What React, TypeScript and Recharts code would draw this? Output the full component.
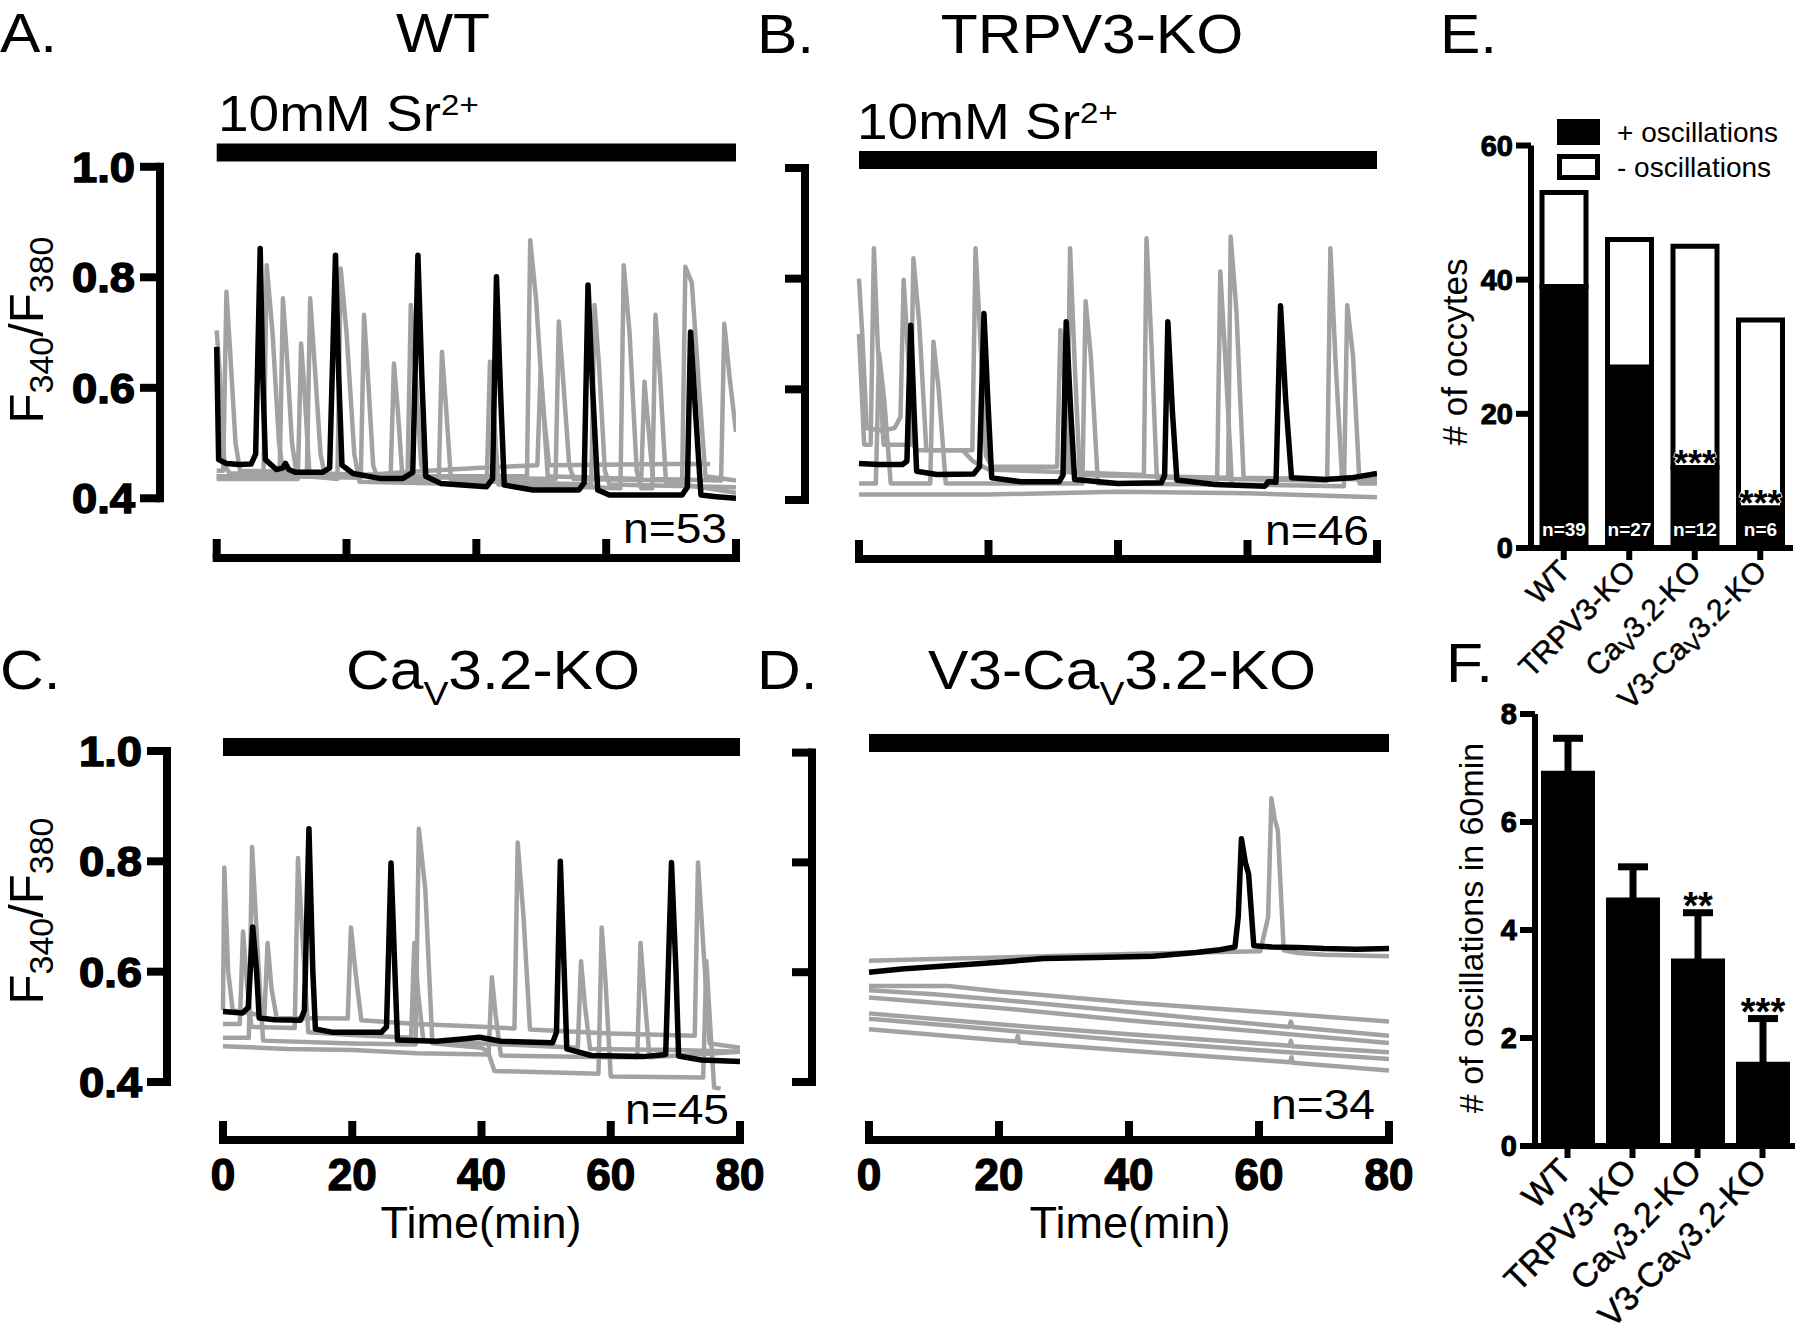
import React from 'react';
import { LineChart, Line, XAxis, YAxis, ReferenceLine, BarChart, Bar, ErrorBar, LabelList } from 'recharts';

const FONT = "'Liberation Sans', Arial, Helvetica, sans-serif";
type Pt = [number, number];

// ---------------- Panel A (WT) traces: [time (min), F340/F380] ----------------
const A_BLACK: Pt[] = [[0,0.674],[0.3,0.47],[1.5,0.463],[3.5,0.461],[5.3,0.462],[6.0,0.48],[6.7,0.852],[7.1,0.62],[7.5,0.47],[9.2,0.452],[10.2,0.455],[10.6,0.463],[11.1,0.452],[12.1,0.447],[16.3,0.447],[17.4,0.455],[18.3,0.84],[18.8,0.62],[19.3,0.46],[21,0.445],[25.1,0.436],[28.7,0.436],[30.2,0.447],[31,0.84],[31.6,0.62],[32.2,0.44],[34.5,0.427],[41.6,0.421],[42.5,0.435],[43.1,0.801],[43.7,0.6],[44.3,0.424],[48.7,0.415],[55.8,0.415],[56.6,0.428],[57.2,0.786],[57.9,0.6],[58.7,0.415],[60.5,0.406],[71.7,0.406],[72.5,0.42],[73,0.701],[73.8,0.55],[74.6,0.406],[77,0.403],[80,0.4]];
const A_GRAY1: Pt[] = [[0,0.704],[0.5,0.62],[1.2,0.46],[2,0.445],[9.7,0.445],[10.2,0.762],[10.8,0.66],[11.6,0.5],[12.3,0.445],[26.8,0.44],[27.3,0.644],[27.9,0.56],[28.6,0.44],[47.8,0.44],[48.3,0.867],[49.2,0.76],[50.2,0.58],[51,0.44],[65.4,0.435],[65.9,0.611],[66.5,0.53],[67.2,0.435],[77.7,0.432],[78.2,0.716],[79,0.62],[80,0.52]];
const A_GRAY2: Pt[] = [[0,0.45],[1,0.45],[1.5,0.774],[2.1,0.66],[2.9,0.5],[3.6,0.45],[13.9,0.447],[14.4,0.762],[15.1,0.64],[16,0.48],[16.6,0.445],[29.4,0.44],[29.9,0.75],[30.6,0.63],[31.5,0.46],[32.2,0.438],[52.2,0.435],[52.7,0.72],[53.4,0.61],[54.3,0.46],[55,0.435],[71.7,0.432],[72.2,0.819],[73.2,0.79],[74.3,0.6],[75.3,0.44],[80,0.432]];
const A_GRAY3: Pt[] = [[0,0.44],[7.2,0.44],[7.7,0.822],[8.6,0.7],[9.6,0.5],[10.3,0.44],[22.2,0.437],[22.7,0.732],[23.3,0.62],[24.1,0.46],[24.8,0.436],[34.2,0.432],[34.7,0.665],[35.3,0.57],[36.1,0.432],[57.7,0.425],[58.2,0.75],[58.9,0.64],[59.8,0.45],[60.5,0.425],[80,0.42]];
const A_GRAY4: Pt[] = [[0,0.435],[12.5,0.435],[13,0.68],[13.6,0.58],[14.3,0.44],[18.6,0.435],[19.1,0.816],[20,0.7],[21.2,0.48],[22,0.43],[41.6,0.425],[42.1,0.647],[42.7,0.55],[43.4,0.425],[62.2,0.418],[62.7,0.822],[63.6,0.7],[64.7,0.45],[65.4,0.418],[67.1,0.418],[67.6,0.732],[68.3,0.62],[69.2,0.43],[80,0.41]];
const A_GRAY5: Pt[] = [[0,0.44],[20,0.44],[30,0.448],[40,0.455],[49.4,0.46],[49.9,0.629],[50.5,0.54],[51.2,0.46],[70,0.462],[76,0.462]];

// ---------------- Panel B (TRPV3-KO) ----------------
const B_BLACK: Pt[] = [[0,0.466],[3,0.464],[6.7,0.464],[7.4,0.47],[8,0.716],[8.5,0.56],[8.9,0.452],[12,0.446],[17.7,0.447],[18.6,0.46],[19.3,0.737],[19.9,0.58],[20.5,0.44],[25,0.433],[30.9,0.433],[31.5,0.445],[32,0.722],[32.7,0.56],[33.3,0.437],[40,0.43],[46.7,0.431],[47.2,0.445],[47.7,0.722],[48.4,0.56],[49.1,0.436],[55,0.428],[62.7,0.425],[63.2,0.433],[64.4,0.432],[65.1,0.751],[65.9,0.58],[66.8,0.44],[72,0.437],[76,0.44],[80,0.448]];
const B_GRAY1: Pt[] = [[0,0.8],[0.5,0.7],[1.2,0.53],[3.5,0.525],[5.5,0.53],[6.4,0.55],[6.9,0.798],[7.5,0.68],[8.3,0.5],[9,0.49],[17.5,0.49],[18,0.855],[18.7,0.7],[19.6,0.48],[20.5,0.46],[30.6,0.46],[31.1,0.707],[31.8,0.6],[32.6,0.45],[44,0.445],[44.4,0.873],[45.1,0.7],[46,0.44],[72.3,0.435],[72.8,0.855],[73.6,0.65],[74.6,0.44],[80,0.44]];
const B_GRAY2: Pt[] = [[0,0.7],[0.8,0.5],[1.8,0.5],[2.3,0.855],[2.9,0.68],[3.8,0.5],[7.9,0.5],[8.4,0.837],[9.3,0.72],[10.4,0.49],[16,0.49],[17.6,0.47],[20,0.455],[32.1,0.45],[32.6,0.855],[33.3,0.65],[34.1,0.445],[57,0.44],[57.4,0.876],[58.3,0.74],[59.4,0.44],[80,0.437]];
const B_GRAY3: Pt[] = [[0,0.43],[2.6,0.43],[3.1,0.665],[3.9,0.58],[4.9,0.43],[11,0.43],[11.5,0.686],[12.3,0.6],[13.4,0.43],[34.5,0.43],[35,0.759],[35.8,0.66],[36.9,0.43],[55.3,0.428],[55.8,0.813],[56.6,0.65],[57.6,0.428],[74.9,0.425],[75.4,0.752],[76.3,0.66],[77.3,0.43],[80,0.43]];
const B_GRAY4: Pt[] = [[0,0.41],[20,0.41],[40,0.415],[60,0.412],[80,0.405]];

// ---------------- Panel C (CaV3.2-KO) ----------------
const C_BLACK: Pt[] = [[0,0.528],[3,0.525],[3.9,0.535],[4.6,0.681],[5.2,0.6],[5.6,0.516],[8,0.513],[12,0.512],[12.6,0.53],[13.3,0.859],[13.9,0.6],[14.3,0.496],[17,0.49],[24.5,0.49],[25.3,0.5],[26,0.797],[26.6,0.6],[27,0.476],[33,0.474],[37,0.478],[39.7,0.481],[43,0.474],[51,0.471],[51.6,0.49],[52.2,0.8],[52.8,0.6],[53.2,0.46],[57,0.448],[65,0.446],[68.5,0.45],[69.4,0.798],[70.1,0.6],[70.5,0.447],[74,0.44],[80,0.437]];
const C_GRAY1: Pt[] = [[0,0.53],[0.2,0.789],[0.8,0.6],[1.5,0.53],[6.4,0.52],[6.9,0.652],[7.5,0.57],[8.3,0.516],[19.3,0.515],[19.8,0.68],[20.5,0.6],[21.4,0.512],[30,0.505],[40,0.5],[45.1,0.497],[45.6,0.834],[46.5,0.7],[47.5,0.495],[60,0.488],[73,0.484],[73.5,0.798],[74.3,0.65],[75.3,0.47],[80,0.462]];
const C_GRAY2: Pt[] = [[0,0.505],[2.6,0.505],[3.1,0.673],[3.7,0.58],[4.4,0.5],[11.1,0.498],[11.6,0.806],[12.3,0.66],[13.2,0.49],[20,0.485],[29.1,0.48],[29.6,0.652],[30.2,0.56],[31,0.475],[40,0.47],[54.9,0.462],[55.4,0.619],[56,0.54],[56.8,0.46],[70,0.458],[80,0.455]];
const C_GRAY3: Pt[] = [[0,0.48],[4,0.48],[4.5,0.826],[5.3,0.65],[6.2,0.475],[20,0.47],[29.8,0.468],[30.3,0.859],[31.3,0.75],[32.4,0.47],[40,0.462],[41,0.455],[42,0.42],[58.1,0.415],[58.6,0.68],[59.2,0.58],[60,0.41],[74.3,0.408],[74.8,0.619],[75.4,0.5],[76,0.39],[77,0.388]];
const C_GRAY4: Pt[] = [[0,0.465],[10,0.46],[20,0.458],[30,0.452],[41.1,0.45],[41.6,0.59],[42.2,0.52],[43,0.448],[60,0.445],[64.1,0.445],[64.6,0.652],[65.2,0.56],[66,0.445],[80,0.455]];

// ---------------- Panel D (V3-CaV3.2-KO) ----------------
const D_BLACK: Pt[] = [[0,0.6],[5,0.606],[10,0.61],[20,0.618],[26.9,0.625],[35,0.627],[43.6,0.629],[50.3,0.636],[54,0.641],[56.3,0.646],[56.8,0.7],[57.3,0.843],[57.9,0.8],[58.4,0.779],[59.2,0.648],[62,0.646],[66,0.645],[70,0.643],[75,0.642],[80,0.643]];
const D_GRAY_TOP: Pt[] = [[0,0.621],[10,0.624],[20,0.627],[30,0.63],[40,0.633],[50,0.636],[60.2,0.638],[61.4,0.7],[61.9,0.917],[62.4,0.88],[62.9,0.858],[63.8,0.64],[66,0.635],[70,0.632],[80,0.629]];
const D_GRAY_L1: Pt[] = [[0,0.575],[12.2,0.575],[20,0.565],[40,0.545],[60,0.528],[80,0.51]];
const D_GRAY_L2: Pt[] = [[0,0.567],[10,0.56],[20,0.55],[40,0.528],[60,0.505],[64.6,0.5],[64.9,0.51],[65.2,0.5],[80,0.484]];
const D_GRAY_L3: Pt[] = [[0,0.554],[20,0.535],[40,0.512],[60,0.492],[80,0.471]];
const D_GRAY_L4: Pt[] = [[0,0.525],[20,0.505],[40,0.487],[60,0.47],[64.7,0.466],[64.9,0.475],[65.1,0.465],[80,0.454]];
const D_GRAY_L5: Pt[] = [[0,0.515],[20,0.495],[40,0.475],[60,0.458],[80,0.442]];
const D_GRAY_L6: Pt[] = [[0,0.496],[20,0.476],[22.7,0.474],[22.9,0.484],[23.1,0.472],[40,0.457],[60,0.44],[64.8,0.436],[65,0.445],[65.2,0.435],[80,0.421]];

const TIME_TICKS = [0, 20, 40, 60, 80];
const RATIO_TICKS = [0.4, 0.6, 0.8, 1.0];

// ---------------- Panel E / F ----------------
const GENOTYPES = ['WT', 'TRPV3-KO', 'CaV3.2-KO', 'V3-CaV3.2-KO'];
const OSC_POS = [39, 27, 12, 6];
const OSC_NEG = [14, 19, 33, 28];
const OSC_SIG = ['', '', '***', '***'];
const OSC_TICKS = [0, 20, 40, 60];
const FREQ_MEAN = [6.95, 4.6, 3.47, 1.56];
const FREQ_SEM = [0.6, 0.57, 0.85, 0.8];
const FREQ_SIG = ['', '', '**', '***'];
const FREQ_TICKS = [0, 2, 4, 6, 8];

const OSC_ROWS = GENOTYPES.map((name, i) => ({ name, pos: OSC_POS[i], neg: OSC_NEG[i], sig: OSC_SIG[i] }));
const FREQ_ROWS = GENOTYPES.map((name, i) => ({ name, mean: FREQ_MEAN[i], sem: FREQ_SEM[i], sig: FREQ_SIG[i] }));

const rows = (pts: Pt[]) => pts.map(([t, v]) => ({ t, v }));

const GRAY = '#a2a2a2';

type Layout = {
  axisX: number; x0: number; x80: number; y10: number; y04: number; axisY: number;
  plotTop: number; barY: number; chartLeft: number; chartTop: number; xAxisH: number;
  yLabels: boolean; xLabels: boolean;
};

const LAYOUT_A: Layout = { axisX: 160, x0: 216.7, x80: 736, y10: 166.8, y04: 498.3, axisY: 558, plotTop: 120, barY: 152.5, chartLeft: 0, chartTop: 100, xAxisH: 20, yLabels: true, xLabels: false };
const LAYOUT_B: Layout = { axisX: 805, x0: 859, x80: 1377, y10: 168, y04: 500, axisY: 559, plotTop: 125, barY: 160, chartLeft: 760, chartTop: 100, xAxisH: 20, yLabels: false, xLabels: false };
const LAYOUT_C: Layout = { axisX: 167, x0: 223, x80: 740, y10: 751, y04: 1082, axisY: 1140, plotTop: 725, barY: 747, chartLeft: 0, chartTop: 700, xAxisH: 70, yLabels: true, xLabels: true };
const LAYOUT_D: Layout = { axisX: 812, x0: 869, x80: 1389, y10: 752.6, y04: 1082, axisY: 1140, plotTop: 725, barY: 743, chartLeft: 770, chartTop: 700, xAxisH: 70, yLabels: false, xLabels: true };

const RatioTick = (props: any) => {
  const { x, y, payload, showLabel } = props;
  return (
    <g>
      <line x1={x} y1={y} x2={x - 20} y2={y} stroke="#000" strokeWidth={8} />
      {showLabel && (
        <text transform={`translate(${x - 25},${y + 15}) scale(1.08,1)`} textAnchor="end" fontSize={42} fontWeight="bold"
          fontFamily={FONT} fill="#000" stroke="#000" strokeWidth={1.4}>
          {Number(payload.value).toFixed(1)}
        </text>
      )}
    </g>
  );
};

const TimeTick = (props: any) => {
  const { x, y, payload, showLabel } = props;
  return (
    <g>
      <line x1={x} y1={y} x2={x} y2={y - 19} stroke="#000" strokeWidth={8} />
      {showLabel && (
        <text x={x} y={y + 50} textAnchor="middle" fontSize={44} fontWeight="bold" fontFamily={FONT}
          fill="#000" stroke="#000" strokeWidth={1.4}>
          {payload.value}
        </text>
      )}
    </g>
  );
};

function TracePanel({ L, gray, black }: { L: Layout; gray: Pt[][]; black: Pt[] }) {
  const pxMin = (L.x80 - L.x0) / 80;
  const pxUnit = (L.y04 - L.y10) / 0.6;
  const xMin = -(L.x0 - L.axisX) / pxMin;
  const yMin = 0.4 - (L.axisY - L.y04) / pxUnit;
  const yMax = 1.0 + (L.y10 - L.plotTop) / pxUnit;
  const barV = 1.0 + (L.y10 - L.barY) / pxUnit;
  const rightM = 34;
  const width = L.x80 + rightM - L.chartLeft;
  const height = L.axisY + L.xAxisH - L.chartTop;
  return (
    <div style={{ position: 'absolute', left: L.chartLeft, top: L.chartTop }}>
      <LineChart width={width} height={height} margin={{ top: L.plotTop - L.chartTop, right: rightM, bottom: 0, left: 0 }}>
        <XAxis type="number" dataKey="t" domain={[xMin, 80]} allowDataOverflow ticks={TIME_TICKS} interval={0}
          axisLine={false} tickLine={false} tickSize={0} tickMargin={0} height={L.xAxisH}
          tick={(p: any) => <TimeTick {...p} showLabel={L.xLabels} />} />
        <YAxis type="number" dataKey="v" domain={[yMin, yMax]} allowDataOverflow ticks={RATIO_TICKS} interval={0}
          axisLine={false} tickLine={false} tickSize={0} tickMargin={0} width={L.axisX - L.chartLeft}
          tick={(p: any) => <RatioTick {...p} showLabel={L.yLabels} />} />
        <ReferenceLine segment={[{ x: xMin, y: 0.4 }, { x: xMin, y: 1.0 }]} stroke="#000" strokeWidth={8} strokeLinecap="square" ifOverflow="visible" />
        <ReferenceLine segment={[{ x: 0, y: yMin }, { x: 80, y: yMin }]} stroke="#000" strokeWidth={8} strokeLinecap="square" ifOverflow="visible" />
        <ReferenceLine segment={[{ x: 0, y: barV }, { x: 80, y: barV }]} stroke="#000" strokeWidth={18} ifOverflow="visible" />
        {gray.map((g, i) => (
          <Line key={i} data={rows(g)} dataKey="v" type="linear" dot={false} stroke={GRAY} strokeWidth={4.5}
            strokeLinejoin="round" isAnimationActive={false} />
        ))}
        <Line data={rows(black)} dataKey="v" type="linear" dot={false} stroke="#000" strokeWidth={5.5}
          strokeLinejoin="round" isAnimationActive={false} />
      </LineChart>
    </div>
  );
}

const catLabel = (name: string) => {
  const i = name.indexOf('CaV');
  if (i < 0) return name;
  return (
    <>
      {name.slice(0, i + 2)}
      <tspan fontSize="0.75em" dy={5}>V</tspan>
      <tspan dy={-5}>{name.slice(i + 3)}</tspan>
    </>
  );
};

const CatTick = (props: any) => {
  const { x, y, payload, fs, dx, dy } = props;
  return (
    <g>
      <line x1={x} y1={y} x2={x} y2={y + 12} stroke="#000" strokeWidth={6} />
      <text transform={`translate(${x + dx},${y + dy}) rotate(-45)`} textAnchor="end" fontSize={fs} fontFamily={FONT}
        fill="#000" stroke="#000" strokeWidth={0.5}>
        {catLabel(String(payload.value))}
      </text>
    </g>
  );
};

const CountTick = (props: any) => {
  const { x, y, payload, fs } = props;
  return (
    <g>
      <line x1={x} y1={y} x2={x - 15} y2={y} stroke="#000" strokeWidth={6} />
      <text x={x - 18} y={y + fs * 0.36} textAnchor="end" fontSize={fs} fontWeight="bold" fontFamily={FONT}
        fill="#000" stroke="#000" strokeWidth={1}>
        {payload.value}
      </text>
    </g>
  );
};

function PanelE() {
  return (
    <div style={{ position: 'absolute', left: 1420, top: 100 }}>
      <BarChart width={380} height={650} data={OSC_ROWS} margin={{ top: 45.5, right: 7, bottom: 0, left: 0 }} barSize={44}>
        <XAxis dataKey="name" type="category" interval={0} height={202} tickSize={0} tickMargin={0} tickLine={false}
          axisLine={{ stroke: '#000', strokeWidth: 6 }}
          tick={(p: any) => <CatTick {...p} fs={30} dx={8} dy={25} />} />
        <YAxis type="number" domain={[0, 60]} ticks={OSC_TICKS} interval={0} width={111} tickSize={0} tickMargin={0} tickLine={false}
          axisLine={{ stroke: '#000', strokeWidth: 6 }}
          tick={(p: any) => <CountTick {...p} fs={29} />} />
        <Bar dataKey="pos" stackId="s" fill="#000" stroke="#000" strokeWidth={5} isAnimationActive={false}>
          <LabelList dataKey="pos" content={(p: any) => (
            <text x={p.x + p.width / 2} y={p.y + p.height - 12} textAnchor="middle" fontSize={19} fontWeight="bold" fontFamily={FONT} fill="#fff">
              {`n=${p.value}`}
            </text>
          )} />
          <LabelList dataKey="sig" content={(p: any) => (p.value ? (
            <text x={p.x + p.width / 2} y={p.y + 8} textAnchor="middle" fontSize={36} fontWeight="bold" fontFamily={FONT}
              fill="#000" stroke="#fff" strokeWidth={1.5} paintOrder="stroke">
              {p.value}
            </text>
          ) : null)} />
        </Bar>
        <Bar dataKey="neg" stackId="s" fill="#fff" stroke="#000" strokeWidth={5} isAnimationActive={false} />
      </BarChart>
    </div>
  );
}

function PanelF() {
  return (
    <div style={{ position: 'absolute', left: 1420, top: 680 }}>
      <BarChart width={380} height={657} data={FREQ_ROWS} margin={{ top: 34, right: 5, bottom: 0, left: 0 }} barSize={54}>
        <XAxis dataKey="name" type="category" interval={0} height={191} tickSize={0} tickMargin={0} tickLine={false}
          axisLine={{ stroke: '#000', strokeWidth: 6 }}
          tick={(p: any) => <CatTick {...p} fs={34} dx={6} dy={27} />} />
        <YAxis type="number" domain={[0, 8]} ticks={FREQ_TICKS} interval={0} width={115} tickSize={0} tickMargin={0} tickLine={false}
          axisLine={{ stroke: '#000', strokeWidth: 6 }}
          tick={(p: any) => <CountTick {...p} fs={29} />} />
        <Bar dataKey="mean" fill="#000" isAnimationActive={false}>
          <ErrorBar dataKey="sem" width={15} stroke="#000" strokeWidth={7} direction="y" />
          <LabelList dataKey="sig" content={(p: any) => {
            if (!p.value) return null;
            const r = FREQ_ROWS[p.index];
            if (!r) return null;
            const capY = p.y - (r.sem * p.height) / r.mean;
            return (
              <text x={p.x + p.width / 2} y={capY + 6} textAnchor="middle" fontSize={38} fontWeight="bold" fontFamily={FONT}
                fill="#000" stroke="#fff" strokeWidth={1.5} paintOrder="stroke">
                {p.value}
              </text>
            );
          }} />
        </Bar>
      </BarChart>
    </div>
  );
}

const Txt = ({ x, y, size, anchor = 'start', bold = false, sx = 1, rot = 0, fill = '#000', children }: any) => (
  <text transform={`translate(${x},${y}) rotate(${rot}) scale(${sx},1)`} fontSize={size} textAnchor={anchor}
    fontWeight={bold ? 'bold' : 'normal'} fontFamily={FONT} fill={fill}>
    {children}
  </text>
);

const RatioLabel = ({ x, y }: { x: number; y: number }) => (
  <Txt x={x} y={y} size={49} rot={-90} anchor="middle">
    F<tspan fontSize={34} dy={10}>340</tspan><tspan dy={-10}>/F</tspan><tspan fontSize={34} dy={10}>380</tspan>
  </Txt>
);

const SrLabel = ({ x, y }: { x: number; y: number }) => (
  <Txt x={x} y={y} size={50} sx={1.1}>
    10mM Sr<tspan fontSize={30} dy={-16}>2+</tspan>
  </Txt>
);

function Overlay() {
  const SX = 1.1;
  return (
    <svg width={1800} height={1337} style={{ position: 'absolute', left: 0, top: 0, pointerEvents: 'none' }}>
      <Txt x={0} y={52} size={55} sx={SX}>A.</Txt>
      <Txt x={443} y={52} size={55} sx={SX} anchor="middle">WT</Txt>
      <Txt x={757} y={53} size={55} sx={SX}>B.</Txt>
      <Txt x={1092} y={53} size={55} sx={SX} anchor="middle">TRPV3-KO</Txt>
      <Txt x={0} y={689} size={55} sx={SX}>C.</Txt>
      <Txt x={493} y={689} size={55} sx={SX} anchor="middle">Ca<tspan fontSize={34} dy={16}>V</tspan><tspan dy={-16}>3.2-KO</tspan></Txt>
      <Txt x={757} y={689} size={55} sx={SX}>D.</Txt>
      <Txt x={1122} y={689} size={55} sx={SX} anchor="middle">V3-Ca<tspan fontSize={34} dy={16}>V</tspan><tspan dy={-16}>3.2-KO</tspan></Txt>
      <Txt x={1440} y={53} size={55} sx={SX}>E.</Txt>
      <Txt x={1446} y={682} size={55} sx={SX}>F.</Txt>

      <SrLabel x={218} y={131} />
      <SrLabel x={857} y={139} />

      <RatioLabel x={43} y={330} />
      <RatioLabel x={43} y={911} />

      <Txt x={727} y={543} size={42} sx={SX} anchor="end">n=53</Txt>
      <Txt x={1369} y={545} size={42} sx={SX} anchor="end">n=46</Txt>
      <Txt x={729} y={1124} size={42} sx={SX} anchor="end">n=45</Txt>
      <Txt x={1375} y={1119} size={42} sx={SX} anchor="end">n=34</Txt>

      <Txt x={481} y={1238} size={45} anchor="middle">Time(min)</Txt>
      <Txt x={1130} y={1238} size={45} anchor="middle">Time(min)</Txt>

      <rect x={1557} y={119} width={43} height={26} fill="#000" />
      <rect x={1559.5} y={156.5} width={38} height={21} fill="#fff" stroke="#000" strokeWidth={5} />
      <Txt x={1617} y={142} size={28}>+ oscillations</Txt>
      <Txt x={1617} y={177} size={28}>- oscillations</Txt>

      <Txt x={1467} y={352} size={35} rot={-90} anchor="middle"># of occytes</Txt>
      <Txt x={1483} y={928} size={34} rot={-90} anchor="middle"># of oscillations in 60min</Txt>
    </svg>
  );
}

export default function App() {
  return (
    <div style={{ position: 'absolute', left: 0, top: 0, width: 1800, height: 1337, background: '#fff', overflow: 'hidden' }}>
      <TracePanel L={LAYOUT_A} gray={[A_GRAY1, A_GRAY2, A_GRAY3, A_GRAY4, A_GRAY5]} black={A_BLACK} />
      <TracePanel L={LAYOUT_B} gray={[B_GRAY1, B_GRAY2, B_GRAY3, B_GRAY4]} black={B_BLACK} />
      <TracePanel L={LAYOUT_C} gray={[C_GRAY1, C_GRAY2, C_GRAY3, C_GRAY4]} black={C_BLACK} />
      <TracePanel L={LAYOUT_D} gray={[D_GRAY_TOP, D_GRAY_L1, D_GRAY_L2, D_GRAY_L3, D_GRAY_L4, D_GRAY_L5, D_GRAY_L6]} black={D_BLACK} />
      <PanelE />
      <PanelF />
      <Overlay />
    </div>
  );
}
